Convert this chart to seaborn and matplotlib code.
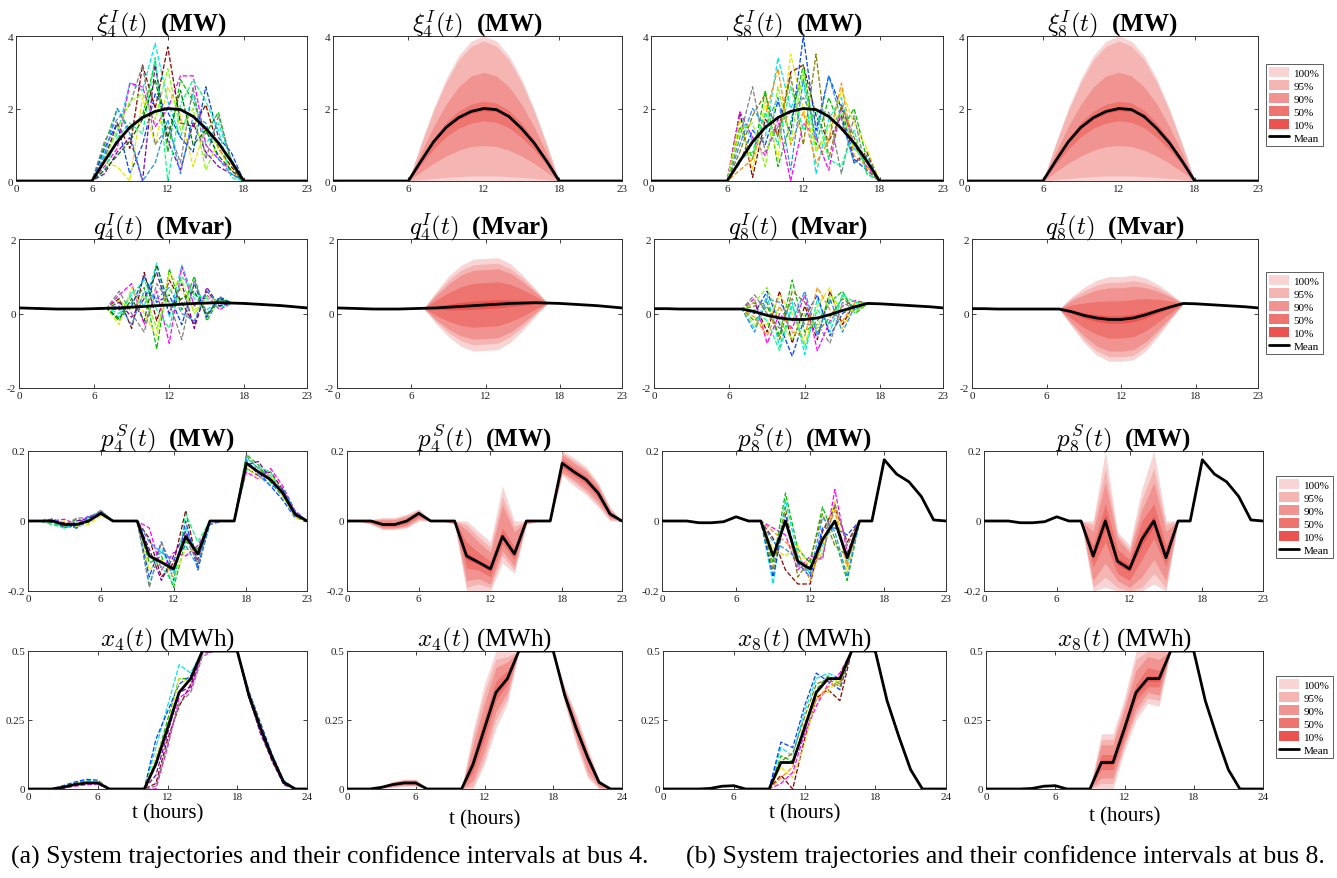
import pandas as pd
import matplotlib
matplotlib.use('Agg')
import matplotlib.pyplot as plt
from matplotlib.patches import Patch
from matplotlib.lines import Line2D
import seaborn as sns

sns.set_theme(style='ticks')
plt.rcParams['font.family'] = ['Liberation Serif', 'DejaVu Serif']
plt.rcParams['mathtext.fontset'] = 'cm'
plt.rcParams['text.color'] = 'black'
plt.rcParams['axes.labelcolor'] = 'black'

# ---------------- data ----------------
HOURS = list(range(24))
HOURS_X = list(range(25))
LEVELS = ['100%', '95%', '90%', '50%', '10%']
BAND_COLORS = ['#f8d4d4', '#f4b5b3', '#f19491', '#ee7470', '#eb5350']
TRAJ_COLORS = ['#00e5e5', '#8b0000', '#00c000', '#ff00ff', '#0040ff', '#7a00b0',
               '#e6e600', '#808080', '#00ff80', '#1e90ff', '#007000', '#80ff00']
TRAJ_COLORS_8 = ['#00e5e5', '#8b0000', '#00c000', '#ff00ff', '#0040ff', '#e6e600',
                 '#808000', '#ff8c00', '#808080', '#1e90ff', '#00ff80', '#80ff00']

# xi^I (MW), same mean for bus 4 and bus 8
MEAN_XI = [0, 0, 0, 0, 0, 0, 0, 0.55, 1.08, 1.48, 1.75, 1.92, 2.0, 1.97, 1.78,
           1.45, 1.05, 0.55, 0, 0, 0, 0, 0, 0]
XI_START = 6
XI_HI = {'100%': [0, 1.04, 2.0, 2.82, 3.46, 3.86, 4.0, 3.86, 3.46, 2.82, 2.0, 1.04, 0],
         '95%': [0, 1.0, 1.93, 2.72, 3.34, 3.72, 3.86, 3.72, 3.34, 2.72, 1.93, 1.0, 0],
         '90%': [0, 0.78, 1.5, 2.12, 2.6, 2.9, 3.0, 2.9, 2.6, 2.12, 1.5, 0.78, 0],
         '50%': [0, 0.6, 1.18, 1.62, 1.93, 2.12, 2.2, 2.15, 1.95, 1.6, 1.15, 0.6, 0],
         '10%': [0, 0.57, 1.11, 1.52, 1.8, 1.97, 2.06, 2.02, 1.83, 1.49, 1.08, 0.57, 0]}
XI_LO = {'100%': [0, 0, 0, 0, 0, 0, 0, 0, 0, 0, 0, 0, 0],
         '95%': [0, 0.04, 0.07, 0.1, 0.12, 0.14, 0.14, 0.14, 0.12, 0.1, 0.07, 0.04, 0],
         '90%': [0, 0.25, 0.49, 0.69, 0.85, 0.95, 0.98, 0.95, 0.85, 0.69, 0.49, 0.25, 0],
         '50%': [0, 0.45, 0.88, 1.22, 1.46, 1.6, 1.66, 1.62, 1.47, 1.2, 0.86, 0.45, 0],
         '10%': [0, 0.53, 1.05, 1.44, 1.7, 1.87, 1.94, 1.92, 1.73, 1.41, 1.02, 0.53, 0]}
XI4_RUNS = [[0, 0.8, 1.3, 2.7, 2.5, 3.8, 2.2, 1.2, 2.4, 1.0, 1.6, 0.6, 0],
            [0, 0.6, 1.6, 0.9, 3.2, 2.0, 3.7, 1.6, 1.5, 2.1, 0.9, 0.4, 0],
            [0, 1.0, 2.0, 1.4, 1.8, 3.3, 0.8, 2.8, 2.2, 1.3, 1.9, 0.5, 0],
            [0, 0.4, 0.9, 2.7, 2.6, 1.5, 2.0, 2.9, 2.9, 1.0, 0.6, 0.3, 0],
            [0, 0.9, 1.6, 0.2, 1.0, 2.4, 1.9, 1.2, 0.8, 2.6, 1.2, 0.8, 0],
            [0, 0.2, 0.8, 1.2, 0.0, 3.2, 1.1, 0.3, 1.6, 0.8, 0.4, 0.2, 0],
            [0, 0.5, 0.4, 0.0, 2.3, 1.0, 2.6, 1.8, 0.4, 1.5, 0.9, 0.3, 0],
            [0, 1.1, 1.7, 2.1, 3.2, 1.0, 1.5, 0.5, 2.6, 0.6, 1.8, 0.6, 0],
            [0, 0.3, 1.2, 1.6, 1.3, 3.4, 0.0, 2.1, 2.8, 2.2, 1.4, 0.1, 0],
            [0, 0.7, 2.0, 1.3, 0.0, 0.5, 1.7, 0.2, 1.8, 1.6, 0.6, 0.2, 0],
            [0, 0.3, 0.7, 1.1, 1.7, 2.8, 1.2, 2.5, 1.0, 1.4, 0.7, 0.3, 0],
            [0, 0.6, 1.4, 2.2, 2.4, 1.7, 3.1, 1.4, 2.0, 0.3, 1.1, 0.5, 0]]
XI8_RUNS = [[0, 1.8, 1.1, 1.2, 3.4, 2.0, 2.8, 0.2, 1.7, 2.3, 0.9, 0.5, 0],
            [0, 1.9, 0.1, 1.7, 1.3, 3.0, 3.2, 1.8, 1.1, 1.8, 0.5, 0.8, 0],
            [0, 1.5, 0.6, 2.5, 0.4, 1.6, 3.2, 1.0, 2.3, 1.4, 2.0, 0.6, 0],
            [0, 1.9, 1.2, 0.7, 1.7, 0.0, 1.6, 1.2, 0.3, 2.1, 1.0, 0.4, 0],
            [0, 0.5, 1.4, 1.0, 2.2, 1.3, 4.0, 1.4, 2.9, 2.0, 0.6, 0.3, 0],
            [0, 1.7, 0.3, 2.2, 0.6, 3.5, 2.0, 0.9, 1.2, 2.5, 1.6, 0.9, 0],
            [0, 0.8, 1.8, 2.4, 1.2, 2.9, 1.0, 3.5, 0.6, 2.1, 1.2, 0.3, 0],
            [0, 0.3, 0.6, 1.8, 3.1, 1.0, 1.9, 0.5, 1.1, 2.7, 0.7, 0.4, 0],
            [0, 1.2, 2.6, 0.8, 1.5, 1.9, 2.3, 1.6, 1.9, 0.2, 1.8, 0.2, 0],
            [0, 1.0, 2.0, 1.5, 2.3, 0.3, 2.8, 1.2, 2.9, 1.7, 0.5, 0.7, 0],
            [0, 0.6, 0.8, 1.9, 1.0, 2.6, 1.4, 2.0, 0.6, 0.4, 1.4, 0.2, 0],
            [0, 1.4, 1.6, 0.4, 2.6, 1.1, 3.0, 0.8, 1.5, 1.9, 0.9, 0.5, 0]]

# q^I (Mvar)
MEAN_Q4 = [0.15, 0.14, 0.13, 0.12, 0.12, 0.12, 0.13, 0.14, 0.15, 0.17, 0.19, 0.21,
           0.23, 0.25, 0.27, 0.28, 0.29, 0.28, 0.27, 0.25, 0.23, 0.21, 0.18, 0.15]
Q_START = 7
Q4_HI = {'100%': [0.14, 0.59, 1.0, 1.29, 1.46, 1.48, 1.5, 1.33, 1.03, 0.67, 0.28],
         '95%': [0.14, 0.54, 0.89, 1.16, 1.31, 1.33, 1.35, 1.2, 0.94, 0.62, 0.28],
         '90%': [0.14, 0.48, 0.79, 1.03, 1.16, 1.18, 1.2, 1.08, 0.85, 0.58, 0.28],
         '50%': [0.14, 0.36, 0.56, 0.72, 0.81, 0.83, 0.85, 0.78, 0.64, 0.47, 0.28],
         '10%': [0.14, 0.19, 0.25, 0.3, 0.33, 0.35, 0.37, 0.37, 0.35, 0.33, 0.28]}
Q4_LO = {'100%': [0.14, -0.28, -0.62, -0.88, -1.01, -0.99, -0.97, -0.77, -0.45, -0.08, 0.28],
         '95%': [0.14, -0.22, -0.51, -0.73, -0.84, -0.82, -0.8, -0.62, -0.35, -0.03, 0.28],
         '90%': [0.14, -0.17, -0.42, -0.6, -0.69, -0.67, -0.65, -0.5, -0.26, 0.02, 0.28],
         '50%': [0.14, -0.05, -0.21, -0.32, -0.37, -0.35, -0.33, -0.22, -0.07, 0.12, 0.28],
         '10%': [0.14, 0.12, 0.1, 0.1, 0.11, 0.13, 0.15, 0.19, 0.22, 0.26, 0.28]}
Q4_RUNS = [[0.14, -0.1, 0.6, 0.2, 1.35, -0.1, 1.3, 0.4, 0.1, 0.35, 0.28],
           [0.14, 0.4, -0.4, 1.1, -0.2, 0.9, 0.3, -0.3, 0.6, 0.2, 0.28],
           [0.14, -0.2, 0.3, 0.7, -0.95, 1.2, 0.1, 1.0, -0.2, 0.4, 0.28],
           [0.14, 0.5, 0.8, -0.3, 0.6, -0.8, 1.25, 0.2, 0.5, 0.1, 0.28],
           [0.14, 0.1, 0.2, 1.0, 0.3, 0.5, -0.3, 0.8, -0.1, 0.45, 0.28],
           [0.14, 0.3, -0.1, 0.4, 1.1, 0.0, 0.8, -0.4, 0.7, 0.2, 0.28],
           [0.14, -0.3, 0.7, 0.0, -0.6, 1.1, 0.6, 0.1, 0.3, 0.3, 0.28],
           [0.14, 0.6, 0.0, -0.5, 0.8, 0.3, -0.7, 0.9, 0.0, 0.35, 0.28],
           [0.14, 0.0, 0.5, 0.9, 0.1, -0.4, 1.0, 0.5, 0.4, 0.15, 0.28],
           [0.14, 0.2, -0.3, 0.6, 0.4, 0.7, 0.0, -0.2, 0.6, 0.25, 0.28],
           [0.14, -0.15, 0.4, -0.2, 1.3, 0.2, 0.4, 0.6, -0.05, 0.4, 0.28],
           [0.14, 0.35, 0.1, 0.5, -0.4, 0.6, 0.9, 0.0, 0.45, 0.3, 0.28]]

MEAN_Q8 = [0.13, 0.13, 0.12, 0.12, 0.12, 0.12, 0.12, 0.12, 0.05, -0.05, -0.12, -0.16,
           -0.16, -0.12, -0.03, 0.08, 0.18, 0.27, 0.26, 0.24, 0.22, 0.2, 0.18, 0.15]
Q8_HI = {'100%': [0.12, 0.45, 0.7, 0.89, 0.99, 0.99, 1.03, 0.95, 0.77, 0.53, 0.27],
         '95%': [0.12, 0.4, 0.6, 0.76, 0.84, 0.84, 0.88, 0.82, 0.68, 0.48, 0.27],
         '90%': [0.12, 0.35, 0.5, 0.63, 0.69, 0.69, 0.73, 0.69, 0.59, 0.44, 0.27],
         '50%': [0.12, 0.23, 0.28, 0.32, 0.34, 0.34, 0.38, 0.4, 0.38, 0.33, 0.27],
         '10%': [0.12, 0.09, 0.02, -0.03, -0.06, -0.06, -0.02, 0.06, 0.14, 0.21, 0.27]}
Q8_LO = {'100%': [0.12, -0.34, -0.78, -1.11, -1.28, -1.28, -1.24, -1.0, -0.59, -0.16, 0.27],
         '95%': [0.12, -0.3, -0.7, -1.0, -1.16, -1.16, -1.12, -0.88, -0.52, -0.12, 0.27],
         '90%': [0.12, -0.25, -0.6, -0.87, -1.01, -1.01, -0.97, -0.75, -0.43, -0.08, 0.27],
         '50%': [0.12, -0.13, -0.38, -0.56, -0.66, -0.66, -0.62, -0.46, -0.22, 0.03, 0.27],
         '10%': [0.12, 0.01, -0.12, -0.21, -0.26, -0.26, -0.22, -0.12, 0.02, 0.15, 0.27]}
Q8_RUNS = [[0.12, -0.4, 0.5, -0.9, 0.3, -1.1, 0.4, -0.5, 0.5, 0.1, 0.27],
           [0.12, 0.3, -0.5, 0.6, -0.8, 0.2, -0.7, 0.6, -0.3, 0.3, 0.27],
           [0.12, -0.2, 0.2, -0.6, 0.9, -0.5, -0.2, 0.3, 0.6, 0.0, 0.27],
           [0.12, 0.4, -0.8, 0.0, -0.4, 0.5, -1.0, -0.2, 0.2, 0.35, 0.27],
           [0.12, 0.0, 0.6, -0.3, -1.15, -0.1, 0.5, -0.6, 0.0, 0.2, 0.27],
           [0.12, -0.3, -0.3, 0.5, 0.0, -0.8, 0.2, 0.7, -0.4, 0.25, 0.27],
           [0.12, 0.2, 0.3, -0.7, 0.6, 0.3, -0.5, -0.1, 0.4, 0.15, 0.27],
           [0.12, -0.1, -0.6, 0.2, -0.5, -0.6, 0.7, 0.1, -0.2, 0.3, 0.27],
           [0.12, 0.5, 0.0, -0.4, 0.4, -0.3, -0.3, -0.8, 0.3, 0.1, 0.27],
           [0.12, -0.5, 0.4, 0.3, -0.2, 0.6, -0.6, 0.4, -0.5, 0.2, 0.27],
           [0.12, 0.1, -0.2, -1.0, 0.2, -0.9, 0.1, -0.3, 0.5, 0.3, 0.27],
           [0.12, 0.3, 0.7, -0.2, -0.7, 0.0, -0.4, 0.5, 0.1, 0.05, 0.27]]

# p^S (MW)
MEAN_P4 = [0, 0, 0, -0.01, -0.01, 0, 0.022, 0, 0, 0, -0.1, -0.118, -0.137, -0.044,
           -0.094, 0, 0, 0, 0.165, 0.14, 0.118, 0.08, 0.02, 0]
P4_HI = {'100%': [0, 0, 0.005, 0.01, 0.01, 0.02, 0.035, 0, 0, 0, 0.0, -0.03, -0.06, 0.1,
                  0.0, 0.0, 0, 0, 0.2, 0.18, 0.155, 0.11, 0.04, 0],
         '95%': [0, 0, 0.004, 0.007, 0.007, 0.017, 0.032, 0, 0, 0, -0.01, -0.045, -0.075,
                 0.07, -0.015, 0, 0, 0, 0.195, 0.172, 0.148, 0.105, 0.036, 0],
         '90%': [0, 0, 0.003, 0.004, 0.004, 0.013, 0.03, 0, 0, 0, -0.025, -0.06, -0.09,
                 0.045, -0.03, 0, 0, 0, 0.19, 0.165, 0.142, 0.1, 0.032, 0],
         '50%': [0, 0, 0.002, -0.004, -0.004, 0.006, 0.027, 0, 0, 0, -0.06, -0.09, -0.115,
                 -0.02, -0.075, 0, 0, 0, 0.178, 0.152, 0.13, 0.092, 0.026, 0],
         '10%': [0, 0, 0.001, -0.008, -0.008, 0.002, 0.024, 0, 0, 0, -0.09, -0.112, -0.131,
                 -0.038, -0.089, 0, 0, 0, 0.17, 0.144, 0.122, 0.084, 0.022, 0]}
P4_LO = {'100%': [0, 0, -0.01, -0.025, -0.025, -0.02, 0.0, 0, 0, -0.01, -0.2, -0.2, -0.2,
                  -0.12, -0.15, -0.01, 0, 0, 0.13, 0.1, 0.075, 0.04, 0.0, 0],
         '95%': [0, 0, -0.008, -0.022, -0.022, -0.017, 0.004, 0, 0, -0.008, -0.19, -0.18,
                 -0.19, -0.1, -0.14, -0.008, 0, 0, 0.135, 0.11, 0.082, 0.047, 0.004, 0],
         '90%': [0, 0, -0.006, -0.02, -0.02, -0.014, 0.008, 0, 0, -0.006, -0.17, -0.165,
                 -0.18, -0.085, -0.13, -0.006, 0, 0, 0.14, 0.117, 0.09, 0.055, 0.008, 0],
         '50%': [0, 0, -0.004, -0.015, -0.016, -0.008, 0.014, 0, 0, -0.003, -0.135, -0.14,
                 -0.16, -0.065, -0.11, -0.003, 0, 0, 0.152, 0.128, 0.104, 0.066, 0.013, 0],
         '10%': [0, 0, -0.001, -0.012, -0.012, -0.002, 0.019, 0, 0, -0.001, -0.11, -0.124,
                 -0.143, -0.05, -0.099, -0.001, 0, 0, 0.16, 0.136, 0.114, 0.076, 0.018, 0]}
P4_RUNS = [[0, 0, -0.005, -0.02, -0.015, 0.005, 0.025, 0, 0, 0, -0.18, -0.08, -0.15, -0.02,
            -0.1, 0, 0, 0, 0.18, 0.15, 0.13, 0.08, 0.02, 0],
           [0, 0, 0.005, -0.005, -0.02, 0.01, 0.02, 0, 0, 0, -0.05, -0.16, -0.12, 0.03,
            -0.13, 0, 0, 0, 0.15, 0.13, 0.14, 0.09, 0.015, 0],
           [0, 0, -0.01, -0.015, 0.005, -0.005, 0.03, 0, 0, 0, -0.12, -0.1, -0.19, -0.06,
            -0.08, 0, 0, 0, 0.19, 0.16, 0.11, 0.07, 0.02, 0],
           [0, 0, 0.0, 0.005, -0.01, 0.015, 0.018, 0, 0, 0, -0.02, -0.14, -0.09, -0.1,
            -0.07, -0.01, 0, 0, 0.14, 0.12, 0.15, 0.1, 0.03, 0],
           [0, 0, -0.005, -0.01, -0.02, 0.0, 0.028, 0, 0, 0, -0.16, -0.06, -0.17, 0.0,
            -0.14, 0, 0, 0, 0.17, 0.14, 0.1, 0.06, 0.01, 0],
           [0, 0, 0.005, -0.02, 0.0, 0.008, 0.022, 0, 0, 0, -0.08, -0.17, -0.1, -0.03,
            -0.11, 0, 0, 0, 0.16, 0.17, 0.12, 0.09, 0.025, 0],
           [0, 0, -0.008, 0.0, -0.015, -0.01, 0.015, 0, 0, 0, -0.14, -0.11, -0.16, -0.08,
            -0.09, 0, 0, 0, 0.155, 0.12, 0.13, 0.07, 0.01, 0],
           [0, 0, 0.0, -0.012, 0.008, 0.01, 0.03, 0, 0, 0, -0.19, -0.06, -0.14, -0.05,
            -0.12, 0, 0, 0, 0.185, 0.15, 0.115, 0.085, 0.02, 0],
           [0, 0, -0.01, -0.02, -0.005, 0.0, 0.02, 0, 0, 0, -0.1, -0.13, -0.18, 0.02,
            -0.06, 0, 0, 0, 0.145, 0.155, 0.14, 0.075, 0.015, 0],
           [0, 0, 0.005, -0.008, -0.02, 0.012, 0.025, 0, 0, 0, -0.06, -0.09, -0.11, -0.07,
            -0.13, -0.01, 0, 0, 0.175, 0.13, 0.1, 0.095, 0.03, 0]]

MEAN_P8 = [0, 0, 0, -0.005, -0.005, -0.002, 0.012, 0, 0, -0.1, 0, -0.115, -0.137, -0.053,
           0, -0.105, 0, 0, 0.175, 0.134, 0.112, 0.07, 0.003, 0]
P8_START = 8
P8_HI = {'100%': [0, 0.0, 0.2, -0.03, -0.07, 0.09, 0.2, 0.0, 0],
         '95%': [0, -0.01, 0.15, -0.04, -0.08, 0.06, 0.15, -0.01, 0],
         '90%': [0, -0.03, 0.11, -0.05, -0.09, 0.03, 0.11, -0.03, 0],
         '50%': [0, -0.07, 0.05, -0.08, -0.11, 0.0, 0.05, -0.07, 0],
         '10%': [0, -0.09, 0.02, -0.105, -0.125, -0.035, 0.015, -0.09, 0]}
P8_LO = {'100%': [0, -0.2, -0.19, -0.2, -0.2, -0.2, -0.18, -0.2, 0],
         '95%': [0, -0.19, -0.16, -0.19, -0.2, -0.19, -0.15, -0.19, 0],
         '90%': [0, -0.17, -0.12, -0.17, -0.19, -0.16, -0.11, -0.17, 0],
         '50%': [0, -0.13, -0.06, -0.15, -0.17, -0.11, -0.05, -0.13, 0],
         '10%': [0, -0.11, -0.02, -0.125, -0.145, -0.07, -0.015, -0.11, 0]}
P8_RUNS = [[0, -0.18, 0.06, -0.1, -0.15, -0.07, 0.0, -0.12, 0],
           [0, -0.05, -0.14, -0.18, -0.18, -0.03, 0.04, -0.06, 0],
           [0, -0.12, 0.08, -0.08, -0.12, 0.04, -0.05, -0.17, 0],
           [0, -0.02, -0.04, -0.14, -0.1, -0.11, 0.09, -0.09, 0],
           [0, -0.16, 0.02, -0.12, -0.16, -0.02, -0.02, -0.04, 0],
           [0, -0.08, -0.1, -0.07, -0.14, -0.09, 0.06, -0.15, 0],
           [0, -0.14, 0.04, -0.16, -0.11, 0.02, -0.07, -0.1, 0],
           [0, -0.03, -0.06, -0.09, -0.17, -0.06, 0.03, -0.13, 0],
           [0, -0.1, 0.0, -0.13, -0.13, -0.1, 0.05, -0.07, 0],
           [0, -0.06, -0.08, -0.11, -0.15, 0.01, -0.03, -0.16, 0]]

# x (MWh), 25 points
MEAN_X4 = [0, 0, 0, 0.006, 0.016, 0.022, 0.022, 0, 0, 0, 0, 0.09, 0.22, 0.35, 0.4, 0.5,
           0.5, 0.5, 0.5, 0.34, 0.22, 0.115, 0.024, 0, 0]
X4_HI = {'100%': [0, 0, 0, 0.012, 0.028, 0.036, 0.036, 0, 0, 0, 0, 0.21, 0.38, 0.5, 0.5,
                  0.5, 0.5, 0.5, 0.5, 0.37, 0.27, 0.15, 0.035, 0, 0],
         '95%': [0, 0, 0, 0.011, 0.026, 0.034, 0.034, 0, 0, 0, 0, 0.19, 0.35, 0.47, 0.48,
                 0.5, 0.5, 0.5, 0.5, 0.365, 0.26, 0.14, 0.032, 0, 0],
         '90%': [0, 0, 0, 0.01, 0.024, 0.032, 0.032, 0, 0, 0, 0, 0.16, 0.31, 0.44, 0.46,
                 0.5, 0.5, 0.5, 0.5, 0.36, 0.25, 0.13, 0.03, 0, 0],
         '50%': [0, 0, 0, 0.008, 0.02, 0.027, 0.027, 0, 0, 0, 0, 0.12, 0.26, 0.39, 0.43,
                 0.5, 0.5, 0.5, 0.5, 0.35, 0.235, 0.125, 0.028, 0, 0],
         '10%': [0, 0, 0, 0.007, 0.017, 0.024, 0.024, 0, 0, 0, 0, 0.1, 0.23, 0.36, 0.41,
                 0.5, 0.5, 0.5, 0.5, 0.343, 0.225, 0.12, 0.026, 0, 0]}
X4_LO = {'100%': [0, 0, 0, 0.002, 0.006, 0.01, 0.01, 0, 0, 0, 0, 0.0, 0.09, 0.22, 0.31,
                  0.5, 0.5, 0.5, 0.5, 0.31, 0.16, 0.04, 0.0, 0, 0],
         '95%': [0, 0, 0, 0.003, 0.008, 0.012, 0.012, 0, 0, 0, 0, 0.01, 0.11, 0.25, 0.33,
                 0.5, 0.5, 0.5, 0.5, 0.315, 0.17, 0.05, 0.004, 0, 0],
         '90%': [0, 0, 0, 0.004, 0.01, 0.014, 0.014, 0, 0, 0, 0, 0.03, 0.14, 0.28, 0.35,
                 0.5, 0.5, 0.5, 0.5, 0.32, 0.185, 0.065, 0.008, 0, 0],
         '50%': [0, 0, 0, 0.005, 0.013, 0.018, 0.018, 0, 0, 0, 0, 0.06, 0.18, 0.32, 0.38,
                 0.5, 0.5, 0.5, 0.5, 0.33, 0.205, 0.095, 0.016, 0, 0],
         '10%': [0, 0, 0, 0.006, 0.015, 0.021, 0.021, 0, 0, 0, 0, 0.08, 0.21, 0.34, 0.395,
                 0.5, 0.5, 0.5, 0.5, 0.337, 0.215, 0.11, 0.022, 0, 0]}
X4_RUNS = [[0, 0, 0, 0.01, 0.02, 0.03, 0.03, 0, 0, 0, 0, 0.15, 0.3, 0.45, 0.42, 0.5,
            0.5, 0.5, 0.5, 0.35, 0.23, 0.12, 0.03, 0, 0],
           [0, 0, 0, 0.004, 0.012, 0.018, 0.02, 0, 0, 0, 0, 0.02, 0.18, 0.3, 0.38, 0.5,
            0.5, 0.5, 0.5, 0.33, 0.21, 0.1, 0.02, 0, 0],
           [0, 0, 0, 0.008, 0.02, 0.028, 0.025, 0, 0, 0, 0, 0.1, 0.25, 0.4, 0.4, 0.5,
            0.5, 0.5, 0.5, 0.345, 0.22, 0.12, 0.025, 0, 0],
           [0, 0, 0, 0.003, 0.01, 0.015, 0.018, 0, 0, 0, 0, 0.0, 0.15, 0.33, 0.36, 0.49,
            0.5, 0.5, 0.5, 0.34, 0.23, 0.11, 0.02, 0, 0],
           [0, 0, 0, 0.012, 0.025, 0.035, 0.032, 0, 0, 0, 0, 0.18, 0.28, 0.38, 0.41, 0.5,
            0.5, 0.5, 0.5, 0.355, 0.24, 0.125, 0.03, 0, 0],
           [0, 0, 0, 0.006, 0.015, 0.02, 0.022, 0, 0, 0, 0, 0.05, 0.2, 0.35, 0.37, 0.5,
            0.5, 0.5, 0.5, 0.335, 0.2, 0.105, 0.015, 0, 0],
           [0, 0, 0, 0.005, 0.018, 0.025, 0.028, 0, 0, 0, 0, 0.12, 0.22, 0.4, 0.39, 0.5,
            0.5, 0.5, 0.5, 0.35, 0.225, 0.115, 0.025, 0, 0],
           [0, 0, 0, 0.009, 0.014, 0.022, 0.02, 0, 0, 0, 0, 0.01, 0.16, 0.31, 0.35, 0.48,
            0.5, 0.5, 0.5, 0.34, 0.215, 0.12, 0.02, 0, 0]]

MEAN_X8 = [0, 0, 0, 0, 0.002, 0.01, 0.012, 0, 0, 0, 0.096, 0.096, 0.22, 0.35, 0.4, 0.4,
           0.5, 0.5, 0.5, 0.32, 0.19, 0.07, 0, 0, 0]
X8_START = 9
X8_HI = {'100%': [0, 0.2, 0.2, 0.33, 0.5, 0.5, 0.5, 0.5],
         '95%': [0, 0.18, 0.18, 0.31, 0.47, 0.5, 0.5, 0.5],
         '90%': [0, 0.16, 0.16, 0.29, 0.43, 0.48, 0.47, 0.5],
         '50%': [0, 0.125, 0.125, 0.25, 0.38, 0.44, 0.43, 0.5],
         '10%': [0, 0.105, 0.105, 0.23, 0.36, 0.41, 0.41, 0.5]}
X8_LO = {'100%': [0, 0.0, 0.0, 0.14, 0.25, 0.31, 0.3, 0.5],
         '95%': [0, 0.02, 0.02, 0.16, 0.27, 0.33, 0.32, 0.5],
         '90%': [0, 0.04, 0.04, 0.17, 0.29, 0.35, 0.34, 0.5],
         '50%': [0, 0.07, 0.07, 0.19, 0.32, 0.37, 0.37, 0.5],
         '10%': [0, 0.09, 0.09, 0.21, 0.34, 0.39, 0.39, 0.5]}
X8_RUNS = [[0, 0.15, 0.12, 0.28, 0.4, 0.42, 0.4, 0.5],
           [0, 0.05, 0.0, 0.18, 0.33, 0.36, 0.32, 0.5],
           [0, 0.12, 0.1, 0.22, 0.36, 0.41, 0.38, 0.5],
           [0, 0.02, 0.06, 0.2, 0.3, 0.38, 0.42, 0.5],
           [0, 0.17, 0.15, 0.3, 0.42, 0.39, 0.36, 0.5],
           [0, 0.08, 0.04, 0.16, 0.34, 0.35, 0.41, 0.5],
           [0, 0.1, 0.13, 0.26, 0.38, 0.4, 0.37, 0.5],
           [0, 0.04, 0.08, 0.24, 0.32, 0.37, 0.39, 0.5]]

# ---------------- layout (pixels) ----------------
W, H = 1337, 879
ROW_Y = [(37, 182), (240, 389), (452, 592), (652, 790)]
COL_X = [[(16, 307), (333, 622), (651, 943), (967, 1258)],
         [(19, 307), (337, 622), (654, 943), (972, 1258)],
         [(28, 307), (347, 622), (662, 946), (984, 1263)],
         [(28, 307), (347, 622), (663, 946), (986, 1263)]]
LEGEND_POS = [(1266, 106), (1266, 314), (1276, 518), (1276, 718)]


def make_ax(fig, r, c):
    (x0, x1), (y0, y1) = COL_X[r][c], ROW_Y[r]
    return fig.add_axes([x0 / W, 1 - y1 / H, (x1 - x0) / W, (y1 - y0) / H])


def full_series(mean, start, seg):
    return list(mean[:start]) + list(seg) + list(mean[start + len(seg):])


def draw_runs(ax, t, mean, start, runs, colors):
    rows = []
    for k, seg in enumerate(runs):
        for tt, v in zip(t, full_series(mean, start, seg)):
            rows.append(('r%d' % k, tt, v))
    df = pd.DataFrame(rows, columns=['run', 't', 'val'])
    sns.lineplot(data=df, x='t', y='val', hue='run', palette=colors[:len(runs)],
                 legend=False, ax=ax, linewidth=0.9, linestyle='--', zorder=2)
    sns.lineplot(x=t, y=mean, color='black', linewidth=2.0, ax=ax, zorder=5)


def draw_bands(ax, t, mean, start, lo, hi):
    for lev, col in zip(LEVELS, BAND_COLORS):
        n = len(lo[lev])
        ax.fill_between(t[start:start + n], lo[lev], hi[lev], color=col, lw=0, zorder=1)
    sns.lineplot(x=t, y=mean, color='black', linewidth=2.0, ax=ax, zorder=5)


def style_ax(ax, title, bold, xmax, yticks, ylabels):
    ax.set_xlim(0, xmax)
    ax.set_ylim(yticks[0], yticks[-1])
    ax.set_xticks([0, 6, 12, 18, xmax])
    ax.set_xticklabels([str(v) for v in [0, 6, 12, 18, xmax]])
    ax.set_yticks(yticks)
    ax.set_yticklabels(ylabels)
    ax.tick_params(direction='in', top=True, right=True, length=3, width=0.6,
                   labelsize=8, pad=2, colors='#222222')
    for s in ax.spines.values():
        s.set_linewidth(0.7)
        s.set_color('#333333')
    ax.set_xlabel('')
    ax.set_ylabel('')
    ax.set_title(title, fontsize=18, fontweight='bold' if bold else 'normal', pad=4,
                 color='black')


fig = plt.figure(figsize=(W / 100, H / 100), dpi=100)

rows_spec = [
    (HOURS, 23, [0, 2, 4], ['0', '2', '4'], True,
     (r'$\xi_4^I(t)$  (MW)', MEAN_XI, XI_START, XI4_RUNS, XI_LO, XI_HI),
     (r'$\xi_8^I(t)$  (MW)', MEAN_XI, XI_START, XI8_RUNS, XI_LO, XI_HI)),
    (HOURS, 23, [-2, 0, 2], ['-2', '0', '2'], True,
     (r'$q_4^I(t)$  (Mvar)', MEAN_Q4, Q_START, Q4_RUNS, Q4_LO, Q4_HI),
     (r'$q_8^I(t)$  (Mvar)', MEAN_Q8, Q_START, Q8_RUNS, Q8_LO, Q8_HI)),
    (HOURS, 23, [-0.2, 0, 0.2], ['-0.2', '0', '0.2'], True,
     (r'$p_4^S(t)$  (MW)', MEAN_P4, 0, P4_RUNS, P4_LO, P4_HI),
     (r'$p_8^S(t)$  (MW)', MEAN_P8, P8_START, P8_RUNS, P8_LO, P8_HI)),
    (HOURS_X, 24, [0, 0.25, 0.5], ['0', '0.25', '0.5'], False,
     (r'$x_4(t)$ (MWh)', MEAN_X4, 0, X4_RUNS, X4_LO, X4_HI),
     (r'$x_8(t)$ (MWh)', MEAN_X8, X8_START, X8_RUNS, X8_LO, X8_HI)),
]

for r, (t, xmax, yt, yl, bold, bus4, bus8) in enumerate(rows_spec):
    for b, (title, mean, start, runs, lo, hi) in enumerate([bus4, bus8]):
        colors = TRAJ_COLORS if b == 0 else TRAJ_COLORS_8
        ax = make_ax(fig, r, 2 * b)
        draw_runs(ax, t, mean, start, runs, colors)
        style_ax(ax, title, bold, xmax, yt, yl)
        ax2 = make_ax(fig, r, 2 * b + 1)
        draw_bands(ax2, t, mean, start, lo, hi)
        style_ax(ax2, title, bold, xmax, yt, yl)
        if r == 3:
            ax.set_xlabel('t (hours)', fontsize=15, labelpad=2)
            ax2.set_xlabel('t (hours)', fontsize=15, labelpad=6 if b == 0 else 4)

    handles = [Patch(facecolor=c, edgecolor='none', label=l) for l, c in zip(LEVELS, BAND_COLORS)]
    handles.append(Line2D([], [], color='black', lw=2.0, label='Mean'))
    lx, ly = LEGEND_POS[r]
    leg = fig.legend(handles=handles, loc='center left', bbox_to_anchor=(lx / W, 1 - ly / H),
                     fontsize=8, frameon=True, fancybox=False, edgecolor='#333333',
                     borderpad=0.3, handlelength=1.8, handleheight=1.0, handletextpad=0.4,
                     labelspacing=0.2, borderaxespad=0)
    leg.get_frame().set_linewidth(0.7)

fig.text(330 / W, 1 - 857 / H, '(a) System trajectories and their confidence intervals at bus 4.',
         ha='center', va='center', fontsize=18.5)
fig.text(1005 / W, 1 - 857 / H, '(b) System trajectories and their confidence intervals at bus 8.',
         ha='center', va='center', fontsize=18.5)

fig.savefig('out.png', dpi=100)
